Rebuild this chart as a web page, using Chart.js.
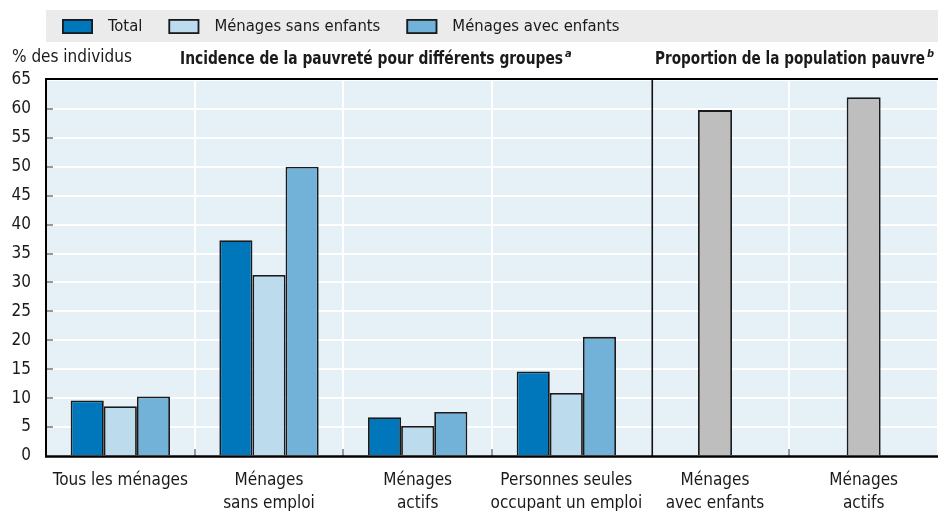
<!DOCTYPE html>
<html><head><meta charset="utf-8">
<script src="https://cdn.jsdelivr.net/npm/chart.js@4.4.1/dist/chart.umd.min.js"></script>
<style>html,body{margin:0;padding:0;background:#fff;}#wrap{width:938px;height:511px;position:relative;}</style>
</head><body><div id="wrap"><canvas id="c" width="938" height="511"></canvas></div>
<script>
const categories = [["Tous les ménages"], ["Ménages", "sans emploi"], ["Ménages", "actifs"], ["Personnes seules", "occupant un emploi"], ["Ménages", "avec enfants"], ["Ménages", "actifs"]];
const seriesNames = ["Total", "Ménages sans enfants", "Ménages avec enfants", "Proportion de la population pauvre"];
const totalValues = [9.6, 37.3, 6.7, 14.6, null, null];
const sansEnfantsValues = [8.6, 31.3, 5.2, 10.9, null, null];
const avecEnfantsValues = [10.3, 50.0, 7.6, 20.6, null, null];
const proportionValues = [null, null, null, null, 59.8, 62.0];
const yTicks = [0, 5, 10, 15, 20, 25, 30, 35, 40, 45, 50, 55, 60, 65];
const yAxisTitle = "% des individus";
const panelTitles = ["Incidence de la pauvreté pour différents groupes", "Proportion de la population pauvre"];
const panelNotes = ["a", "b"];

const FONT = '"Liberation Sans Narrow", "DejaVu Sans Condensed", "Arial Narrow", sans-serif';
const colors = ["#0077bb", "#bcdcee", "#72b2d9", "#bebebe"];
const TEXT = "#1a1a1a";

function fitText(ctx, text, x, y, maxW) {
  const w = ctx.measureText(text).width;
  const s = Math.min(1, maxW / w);
  ctx.save();
  ctx.translate(x, y);
  ctx.scale(s, 1);
  ctx.fillText(text, 0, 0);
  ctx.restore();
  return w * s;
}

const decor = {
  id: "decor",
  beforeDraw(chart) {
    const ctx = chart.ctx, a = chart.chartArea;
    ctx.save();
    ctx.fillStyle = "#e6f0f7";
    ctx.fillRect(a.left, a.top, a.right - a.left, a.bottom - a.top);
    ctx.fillStyle = "#ebebeb";
    ctx.fillRect(a.left, 10, chart.width - a.left, 32);
    ctx.font = "16.5px " + FONT;
    ctx.textBaseline = "middle";
    ctx.textAlign = "left";
    let x = 62;
    for (let i = 0; i < 3; i++) {
      ctx.fillStyle = colors[i];
      ctx.fillRect(x, 19, 31, 15);
      ctx.lineWidth = 1.8;
      ctx.strokeStyle = "#1a1a1a";
      ctx.strokeRect(x + 0.9, 19.9, 29.2, 13.2);
      ctx.fillStyle = TEXT;
      const lbl = chart.data.datasets[i].label;
      ctx.fillText(lbl, x + 46, 26.5);
      x += 46 + ctx.measureText(lbl).width + 26;
    }
    ctx.font = "17px " + FONT;
    ctx.textBaseline = "alphabetic";
    ctx.fillText(yAxisTitle, 12, 62);
    const tx = [180, 655], tw = [383, 270];
    for (let i = 0; i < 2; i++) {
      ctx.font = "bold 17.5px " + FONT;
      ctx.fillStyle = TEXT;
      const w = fitText(ctx, panelTitles[i], tx[i], 64, tw[i]);
      ctx.font = "italic bold 11px " + FONT;
      ctx.fillText(panelNotes[i], tx[i] + w + 2, 57);
    }
    ctx.restore();
  },
  afterDraw(chart) {
    const ctx = chart.ctx, a = chart.chartArea;
    const xs = chart.scales.x, ys = chart.scales.y;
    ctx.save();
    ctx.strokeStyle = "#777";
    ctx.lineWidth = 1.5;
    yTicks.forEach(v => {
      if (v === 0 || v === 65) return;
      const y = Math.round(ys.getPixelForValue(v));
      ctx.beginPath(); ctx.moveTo(a.left, y); ctx.lineTo(a.left + 7, y); ctx.stroke();
    });
    [0.5, 1.5, 2.5, 4.5].forEach(v => {
      const x = Math.round(xs.getPixelForValue(v));
      ctx.beginPath(); ctx.moveTo(x, a.bottom); ctx.lineTo(x, a.bottom - 7); ctx.stroke();
    });
    ctx.strokeStyle = "#111";
    ctx.lineWidth = 1.6;
    const sx = xs.getPixelForValue(3.578);
    ctx.beginPath(); ctx.moveTo(sx, a.top); ctx.lineTo(sx, a.bottom); ctx.stroke();
    ctx.strokeStyle = "#000";
    ctx.lineWidth = 2;
    ctx.beginPath(); ctx.moveTo(a.left, a.top - 1); ctx.lineTo(a.right, a.top - 1); ctx.stroke();
    ctx.beginPath(); ctx.moveTo(a.left, a.top - 2); ctx.lineTo(a.left, a.bottom); ctx.stroke();
    ctx.lineWidth = 2.5;
    ctx.beginPath(); ctx.moveTo(a.left - 1, a.bottom + 0.5); ctx.lineTo(a.right, a.bottom + 0.5); ctx.stroke();
    ctx.restore();
  }
};

const barCommon = { borderColor: "#1a1a1a", borderWidth: 1.8, categoryPercentage: 0.668, barPercentage: 1.0, skipNull: true };

new Chart(document.getElementById("c"), {
  type: "bar",
  data: {
    labels: categories,
    datasets: [
      Object.assign({ label: seriesNames[0], data: totalValues, backgroundColor: colors[0] }, barCommon),
      Object.assign({ label: seriesNames[1], data: sansEnfantsValues, backgroundColor: colors[1] }, barCommon),
      Object.assign({ label: seriesNames[2], data: avecEnfantsValues, backgroundColor: colors[2] }, barCommon),
      Object.assign({}, barCommon, { label: seriesNames[3], data: proportionValues, backgroundColor: colors[3], barPercentage: 0.342 })
    ]
  },
  options: {
    responsive: false,
    animation: false,
    devicePixelRatio: 1,
    layout: { padding: { top: 80, left: 0, right: 0, bottom: 0 } },
    plugins: { legend: { display: false }, tooltip: { enabled: false }, title: { display: false } },
    scales: {
      x: {
        type: "category",
        offset: true,
        grid: {
          offset: true,
          drawTicks: false,
          lineWidth: 2,
          color: c => (c.index === 0 || c.index === 4) ? "rgba(0,0,0,0)" : "#ffffff"
        },
        border: { display: false },
        ticks: { font: { family: FONT, size: 17, lineHeight: 1.35 }, color: TEXT, padding: 13, maxRotation: 0, autoSkip: false },
        afterFit(s) { s.height = 55; }
      },
      y: {
        min: 0, max: 65,
        afterBuildTicks(s) { s.ticks = yTicks.map(v => ({ value: v })); },
        grid: { drawTicks: false, lineWidth: 2, color: "#ffffff" },
        border: { display: false },
        ticks: { font: { family: FONT, size: 17 }, color: TEXT, padding: 15 },
        afterFit(s) { s.width = 46; }
      }
    }
  },
  plugins: [decor]
});
</script></body></html>
